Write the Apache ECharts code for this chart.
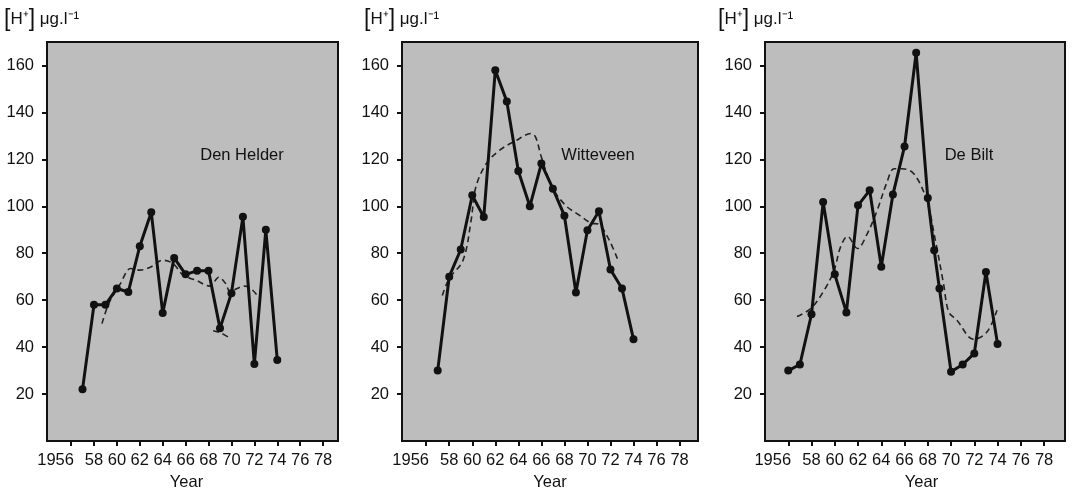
<!DOCTYPE html>
<html>
<head>
<meta charset="utf-8">
<script src="https://cdn.jsdelivr.net/npm/echarts/dist/echarts.min.js"></script>
<style>
  html, body { margin: 0; padding: 0; background: #ffffff; }
  #chart { width: 1074px; height: 489px; }
</style>
</head>
<body>
<div id="chart"></div>
<script>
// ---------- data ----------
const stationNames = ['Den Helder', 'Witteveen', 'De Bilt'];
const yAxisTitleParts = ['[', 'H⁺', ']', ' μg.l⁻¹'];
const xAxisTitle = 'Year';

const xTickValues = [1956, 1958, 1960, 1962, 1964, 1966, 1968, 1970, 1972, 1974, 1976, 1978];
const xTickLabels = ['1956', '58', '60', '62', '64', '66', '68', '70', '72', '74', '76', '78'];
const yTickValues = [20, 40, 60, 80, 100, 120, 140, 160];
const yTickLabels = ['20', '40', '60', '80', '100', '120', '140', '160'];

// Den Helder
const denHelderYears  = [1957, 1958, 1959, 1960, 1961, 1962, 1963, 1964, 1965, 1966, 1967, 1968, 1969, 1970, 1971, 1972, 1973, 1974];
const denHelderValues = [22, 58, 58, 65, 63.5, 83, 97.5, 54.5, 78, 71, 72.5, 72.5, 48, 63, 95.5, 32.8, 90, 34.5];
const denHelderTrendYears  = [1958.7, 1959.3, 1960.3, 1961.2, 1962.0, 1962.9, 1964.0, 1964.9, 1965.8, 1966.9, 1968.1, 1968.9, 1969.5, 1969.9, 1970.5, 1971.2, 1971.8, 1972.4];
const denHelderTrendValues = [50, 58.6, 67, 73.5, 72.8, 74, 77, 75.6, 70.6, 68.5, 66, 69.8, 67, 63.5, 65, 66, 64.5, 61];
const denHelderTrend2Years  = [1968.4, 1969.1, 1969.8];
const denHelderTrend2Values = [47, 46, 44];

// Witteveen
const witteveenYears  = [1957, 1958, 1959, 1960, 1961, 1962, 1963, 1964, 1965, 1966, 1967, 1968, 1969, 1970, 1971, 1972, 1973, 1974];
const witteveenValues = [30, 70, 81.6, 104.7, 95.4, 158, 144.7, 115, 100, 118.2, 107.5, 96, 63.3, 89.8, 97.9, 73.1, 65, 43.3];
const witteveenTrendYears  = [1957.4, 1958.0, 1959.2, 1959.9, 1960.3, 1961.2, 1962.35, 1963.8, 1965.1, 1965.5, 1966.0, 1966.96, 1968.1, 1969.3, 1970.3, 1971.0, 1971.9, 1972.6];
const witteveenTrendValues = [62, 69.2, 77, 94, 108, 118, 123.8, 128, 131, 129.5, 121, 108, 100.4, 96.2, 92.9, 92.3, 85.5, 77.7];

// De Bilt
const deBiltYears  = [1956, 1957, 1958, 1959, 1960, 1961, 1962, 1963, 1964, 1965, 1966, 1967, 1968, 1968.55, 1969, 1970, 1971, 1972, 1973, 1974];
const deBiltValues = [30, 32.6, 54, 101.8, 71, 54.8, 100.4, 106.8, 74.2, 105, 125.5, 165.4, 103.5, 81.3, 65, 29.5, 32.6, 37.3, 72, 41.3];
const deBiltTrendYears  = [1956.75, 1957.95, 1959.1, 1959.95, 1960.5, 1961.1, 1961.95, 1962.8, 1963.65, 1964.5, 1965.1, 1965.8, 1966.8, 1967.9, 1968.65, 1969.35, 1969.8, 1970.5, 1971.95, 1973.1, 1973.95];
const deBiltTrendValues = [53, 56.5, 64.3, 72.8, 82.7, 87.2, 82, 88.4, 98.3, 110.4, 116, 116, 113.9, 102.6, 85.5, 67.1, 55, 51.5, 43.3, 46.5, 55.7];

// ---------- helpers ----------
const zip = (xs, ys) => xs.map((x, i) => [x, ys[i]]);
const FONT = "'Liberation Sans', Arial, Helvetica, sans-serif";
const INK = '#111111';
const PLOT_BG = '#bdbdbd';
const FS = 16.5;

const panels = [
  { left: 47,  width: 291, xmin: 1953.9, xmax: 1979.3, main: zip(denHelderYears, denHelderValues),
    trends: [zip(denHelderTrendYears, denHelderTrendValues), zip(denHelderTrend2Years, denHelderTrend2Values)],
    titleLeft: 4, labelX: 242, namePad: [0, 12, 0, 0] },
  { left: 402, width: 296, xmin: 1953.9, xmax: 1979.6, main: zip(witteveenYears, witteveenValues),
    trends: [zip(witteveenTrendYears, witteveenTrendValues)],
    titleLeft: 364, labelX: 598, namePad: [0, 0, 0, 0] },
  { left: 765, width: 300, xmin: 1954.0, xmax: 1979.8, main: zip(deBiltYears, deBiltValues),
    trends: [zip(deBiltTrendYears, deBiltTrendValues)],
    titleLeft: 718, labelX: 969, namePad: [0, 0, 0, 13] }
];

const grid = [], xAxis = [], yAxis = [], series = [], title = [];

panels.forEach((p, i) => {
  grid.push({
    left: p.left, top: 42, width: p.width, height: 399,
    outerBoundsMode: 'none', containLabel: false,
    show: true, backgroundColor: PLOT_BG, borderColor: INK, borderWidth: 2
  });
  xAxis.push({
    gridIndex: i, type: 'value', min: p.xmin, max: p.xmax,
    name: xAxisTitle, nameLocation: 'middle', nameGap: 31,
    nameTextStyle: { fontFamily: FONT, fontSize: FS, color: INK, padding: p.namePad },
    axisLine: { show: false },
    splitLine: { show: false },
    axisTick: { show: true, inside: false, length: 5, customValues: xTickValues,
                lineStyle: { color: INK, width: 2 } },
    axisLabel: {
      customValues: xTickValues, margin: 11,
      fontFamily: FONT, fontSize: FS, color: INK,
      formatter: v => {
        const lab = xTickLabels[xTickValues.indexOf(v)];
        return v === xTickValues[0] ? '{first|' + lab + '}' : lab;
      },
      rich: { first: { fontFamily: FONT, fontSize: FS, color: INK, padding: [0, 31, 0, 0] } }
    }
  });
  yAxis.push({
    gridIndex: i, type: 'value', min: 0, max: 170,
    axisLine: { show: false },
    splitLine: { show: false },
    axisTick: { show: true, inside: false, length: 5, customValues: yTickValues,
                lineStyle: { color: INK, width: 2 } },
    axisLabel: {
      customValues: yTickValues, margin: 13,
      fontFamily: FONT, fontSize: FS, color: INK,
      formatter: v => yTickLabels[yTickValues.indexOf(v)]
    }
  });
  series.push({
    type: 'line', xAxisIndex: i, yAxisIndex: i, data: p.main,
    symbol: 'circle', symbolSize: 8, z: 3,
    lineStyle: { color: INK, width: 3 },
    itemStyle: { color: INK },
    animation: false
  });
  p.trends.forEach(t => {
    series.push({
      type: 'line', xAxisIndex: i, yAxisIndex: i, data: t,
      symbol: 'none', smooth: 0.35, z: 2,
      lineStyle: { color: '#222222', width: 1.6, type: [6, 4] },
      animation: false
    });
  });
  title.push({
    text: '{br|' + yAxisTitleParts[0] + '}{t|' + yAxisTitleParts[1] + '}{br|' + yAxisTitleParts[2] + '}{t|' + yAxisTitleParts[3] + '}',
    left: p.titleLeft, top: 8, padding: 0,
    textStyle: {
      fontFamily: FONT, fontSize: FS, fontWeight: 'normal', color: INK,
      rich: {
        br: { fontFamily: FONT, fontSize: 23, color: INK, fontWeight: 'normal' },
        t: { fontFamily: FONT, fontSize: 17, color: INK, fontWeight: 'normal' }
      }
    }
  });
  title.push({
    text: stationNames[i], left: p.labelX, top: 155, textAlign: 'center', textVerticalAlign: 'middle',
    padding: 0,
    textStyle: { fontFamily: FONT, fontSize: FS, fontWeight: 'normal', color: INK }
  });
});

const chart = echarts.init(document.getElementById('chart'), null, { renderer: 'canvas' });
chart.setOption({
  backgroundColor: '#ffffff',
  animation: false,
  title, grid, xAxis, yAxis, series
});
</script>
</body>
</html>
